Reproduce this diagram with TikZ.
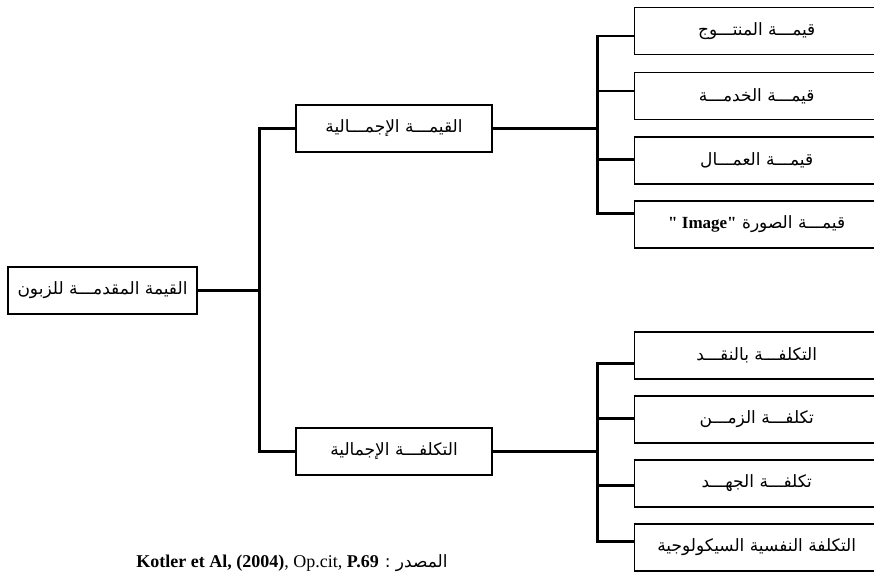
\documentclass[tikz,border=0pt]{standalone}
\usepackage{fontspec}
\setmainfont{Liberation Serif}
\newfontfamily\arabicfont[Script=Arabic]{DejaVu Sans}
\TeXXeTstate=1
\usepackage{tikz}
\usetikzlibrary{positioning}
\tikzset{
  rootbox/.style={draw=black,line width=1.4pt,minimum width=189pt,minimum height=47pt,inner sep=2pt,font=\arabicfont\fontsize{17}{19}\selectfont},
  midbox/.style={draw=black,line width=1.4pt,minimum width=196pt,minimum height=47pt,inner sep=2pt,font=\arabicfont\fontsize{17}{19}\selectfont},
  leafbox/.style={draw=black,line width=1.4pt,minimum width=244pt,minimum height=47pt,inner sep=2pt,anchor=west,font=\arabicfont\fontsize{17}{19}\selectfont},
  link/.style={line width=2.6pt,draw=black}
}

\begin{document}
\begin{tikzpicture}[x=1pt,y=-1pt]
  \useasboundingbox[fill=white] (0,0) rectangle (874,571);
  % root and the two branches
  \node[rootbox] (root) at (102.5,290.5) {\beginR القيمة المقدمـــة للزبون\endR};
  \node[midbox] (value) at (394,128.5) {\beginR القيمـــة الإجمـــالية\endR};
  \node[midbox] (cost) at (394,451.5) {\beginR التكلفـــة الإجمالية\endR};
  % value items
  \node[leafbox] (v1) at (634,31) {\beginR قيمـــة المنتـــوج\endR};
  \node[leafbox] (v2) at (634,96) {\beginR قيمـــة الخدمـــة\endR};
  \node[leafbox] (v3) at (634,160.5) {\beginR قيمـــة العمـــال\endR};
  \node[leafbox] (v4) at (634,224.5) {\beginR قيمـــة الصورة \beginL{\rmfamily\bfseries\fontsize{17}{19}\selectfont\textquotedbl\ Image\textquotedbl}\endL\endR};
  % cost items
  \node[leafbox] (c1) at (634,355.5) {\beginR التكلفـــة بالنقـــد\endR};
  \node[leafbox] (c2) at (634,419.5) {\beginR تكلفـــة الزمـــن\endR};
  \node[leafbox] (c3) at (634,483.5) {\beginR تكلفـــة الجهـــد\endR};
  \node[leafbox] (c4) at (634,547.5) {\beginR التكلفة النفسية السيكولوجية\endR};
  % connectors
  \draw[link] (root.east) -- ++(62,0) |- (value.west);
  \draw[link] (root.east) -- ++(62,0) |- (cost.west);
  \foreach \i/\dy in {1/-5,2/5,3/1,4/11}
    \draw[link] (value.east) -- ++(105,0) |- ([yshift=\dy pt]v\i.west);
  \foreach \i/\dy in {1/-8,2/1,3/-2,4/6}
    \draw[link] (cost.east) -- ++(105,0) |- ([yshift=\dy pt]c\i.west);
  % source
  \node[anchor=base,font=\fontsize{18}{20}\selectfont] (src) at (292,567)
    {\beginR{\arabicfont\fontsize{17}{19}\selectfont المصدر :} \beginL\textbf{Kotler et Al, (2004)}, Op.cit, \textbf{P.69}\endL\endR};
\end{tikzpicture}
\end{document}
